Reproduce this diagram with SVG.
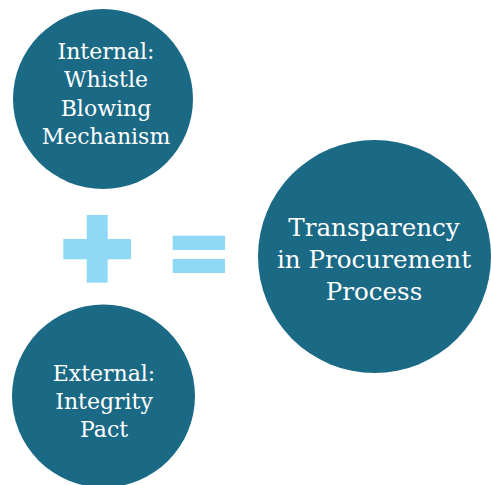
<svg xmlns="http://www.w3.org/2000/svg" width="491" height="485" viewBox="0 0 491 485">
<style>
.c{fill:#1a6985}
.t{fill:#ffffff;font-family:"DejaVu Serif","Liberation Serif",serif;text-anchor:middle}
.s{font-size:22px}
.b{font-size:24.6px}
.op{fill:#8fd9f6}
</style>
<rect width="491" height="485" fill="#ffffff"/>
<g id="internal">
<circle class="c" cx="103" cy="99" r="90"/>
<text class="t s" x="106" y="59">Internal:</text>
<text class="t s" x="106" y="87">Whistle</text>
<text class="t s" x="106" y="116">Blowing</text>
<text class="t s" x="106" y="144">Mechanism</text>
</g>
<g id="external">
<circle class="c" cx="103.5" cy="396" r="91.5"/>
<text class="t s" x="104" y="381">External:</text>
<text class="t s" x="104" y="409">Integrity</text>
<text class="t s" x="104" y="437">Pact</text>
</g>
<g id="result">
<circle class="c" cx="374.5" cy="256.5" r="116.5"/>
<text class="t b" x="374" y="236">Transparency</text>
<text class="t b" x="374" y="268">in Procurement</text>
<text class="t b" x="374" y="300">Process</text>
</g>
<g id="connectors">
<g id="plus" class="op">
<rect x="86.7" y="215" width="21" height="67.7"/>
<rect x="63.3" y="239" width="67.7" height="20.3"/>
</g>
<g id="equals" class="op">
<rect x="172.7" y="235.7" width="52.3" height="14.3"/>
<rect x="172.7" y="259" width="52.3" height="14"/>
</g>
</g>
</svg>
